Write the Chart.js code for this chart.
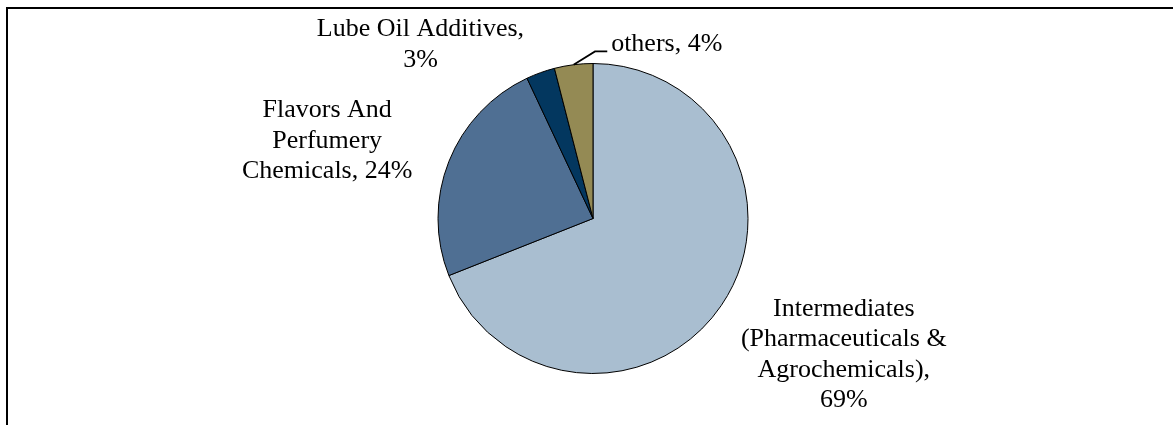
<!DOCTYPE html>
<html lang="en">
<head>
  <meta charset="utf-8">
  <title>Product Mix</title>
  <script src="https://cdn.jsdelivr.net/npm/chart.js@4.4.0/dist/chart.umd.min.js"></script>
  <style>
    html, body { margin: 0; padding: 0; background: #fff; overflow: hidden; }
    #frame {
      position: absolute; left: 6px; top: 7px; width: 1300px; height: 500px;
      border-left: 2px solid #000; border-top: 2px solid #000;
    }
    #wrap { position: absolute; left: 0; top: 0; width: 1173px; height: 425px; }
  </style>
</head>
<body>
<div id="frame"></div>
<div id="wrap"><canvas id="pie"></canvas></div>

<script>
// data
var categories = ['Intermediates (Pharmaceuticals & Agrochemicals)', 'Flavors And Perfumery Chemicals', 'Lube Oil Additives', 'others'];
var shares = [69, 24, 3, 4];
var sliceColors = ['#A9BED0', '#4F6F93', '#03375F', '#948A54'];
// how each label is broken into lines ({v} = share)
var labelLines = [
  ['Intermediates', '(Pharmaceuticals &', 'Agrochemicals),', '{v}%'],
  ['Flavors And', 'Perfumery', 'Chemicals, {v}%'],
  ['Lube Oil Additives,', '{v}%'],
  ['others, {v}%']
];

// label placement relative to pie centre, in units of the radius
var labelPos = [
  {dx: 1.618, dy: 0.877, align: 'center'},
  {dx: -1.715, dy: -0.502, align: 'center'},
  {dx: -1.113, dy: -1.123, align: 'center'},
  {dx: 0.117, dy: -1.123, align: 'left', leader: [0.013, -1.078, 0.092, -1.078]}
];

var lineGap = 30.5;

var pieLabels = {
  id: 'pieLabels',
  afterDatasetsDraw: function(chart) {
    var ctx = chart.ctx;
    var meta = chart.getDatasetMeta(0);
    ctx.save();
    ctx.font = '26px "Liberation Serif", "Times New Roman", serif';
    ctx.fillStyle = '#000';
    ctx.textBaseline = 'middle';
    meta.data.forEach(function(arc, i) {
      var p = arc.getProps(['x', 'y', 'startAngle', 'endAngle', 'outerRadius'], true);
      var r = p.outerRadius;
      var pos = labelPos[i];
      var lx = p.x + pos.dx * r;
      var ly = p.y + pos.dy * r;
      var lines = labelLines[i].map(function(s) { return s.replace('{v}', shares[i]); });
      ctx.textAlign = pos.align;
      var y0 = ly - (lines.length - 1) * lineGap / 2;
      lines.forEach(function(s, k) { ctx.fillText(s, lx, y0 + k * lineGap); });
      if (pos.leader) {
        var mid = (p.startAngle + p.endAngle) / 2;
        ctx.beginPath();
        ctx.strokeStyle = '#000';
        ctx.lineWidth = 1.8;
        ctx.moveTo(p.x + Math.cos(mid) * r, p.y + Math.sin(mid) * r);
        ctx.lineTo(p.x + pos.leader[0] * r, p.y + pos.leader[1] * r);
        ctx.lineTo(p.x + pos.leader[2] * r, p.y + pos.leader[3] * r);
        ctx.stroke();
      }
    });
    ctx.restore();
  }
};

var ctx = document.getElementById('pie').getContext('2d');
var pieChart = new Chart(ctx, {
  type: 'pie',
  data: {
    labels: categories,
    datasets: [{
      data: shares,
      backgroundColor: sliceColors,
      borderColor: '#000',
      borderWidth: 1
    }]
  },
  options: {
    responsive: true,
    maintainAspectRatio: false,
    animation: false,
    layout: { padding: { top: 63, bottom: 51, left: 100, right: 87 } },
    plugins: {
      legend: { display: false },
      tooltip: { enabled: false }
    }
  },
  plugins: [pieLabels]
});
</script>
</body>
</html>
